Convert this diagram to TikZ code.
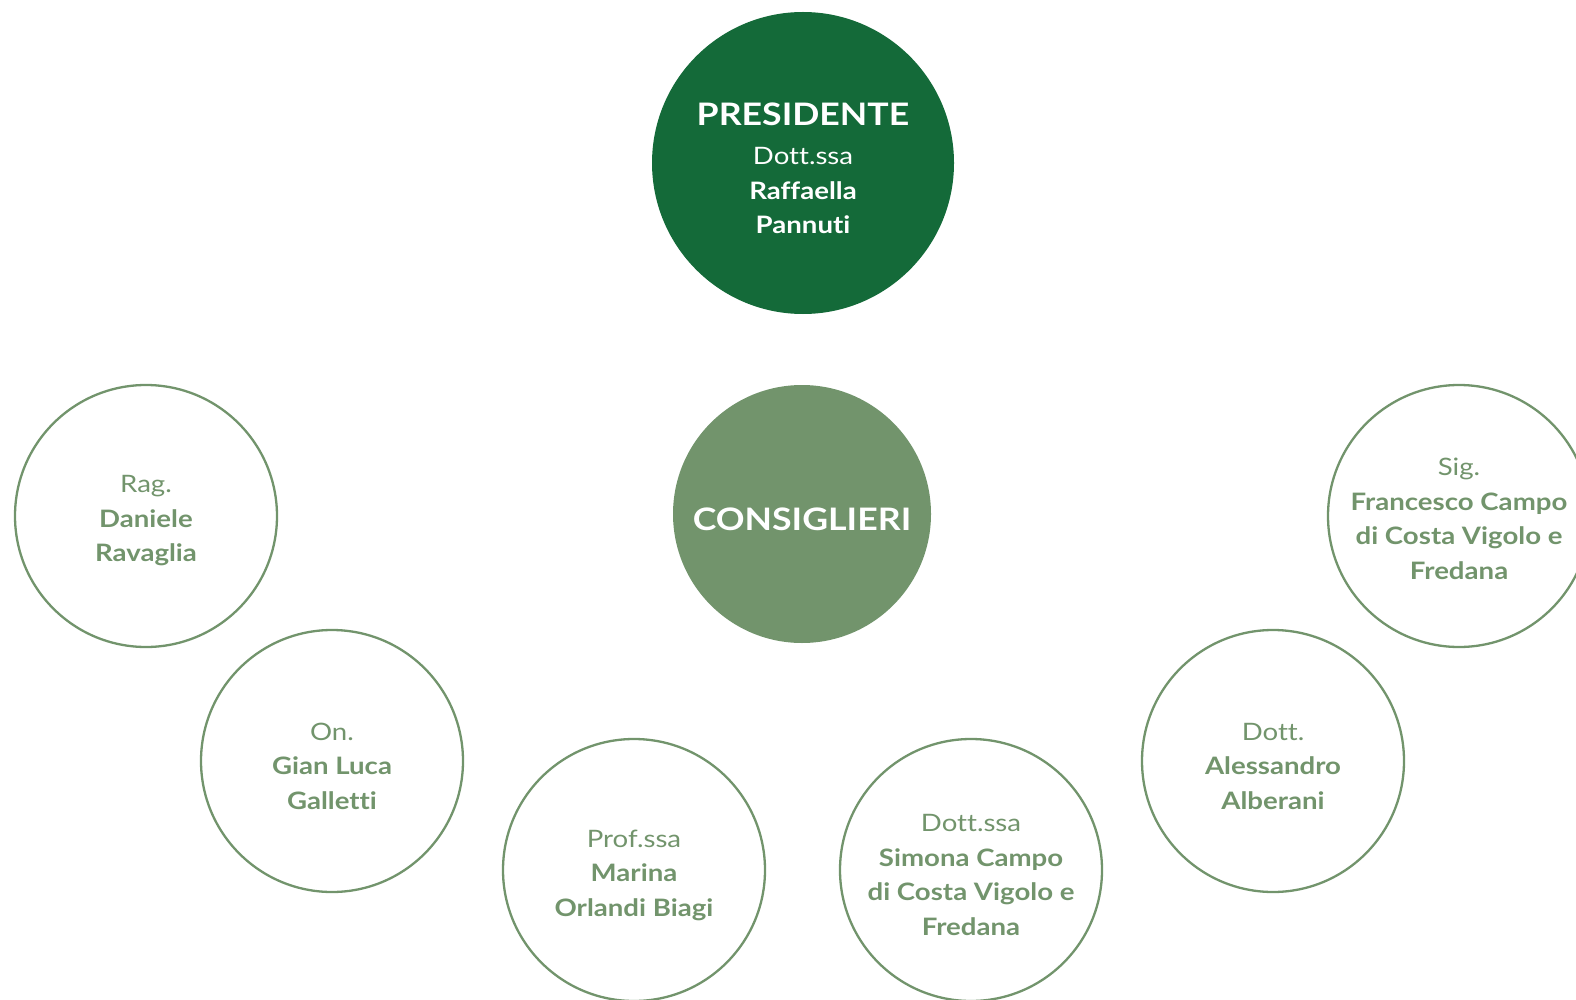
\documentclass[tikz,border=0pt]{standalone}
\usepackage{fontspec}
\setmainfont{Lato}[FakeStretch=1.15,Ligatures=NoCommon]
\definecolor{darkgreen}{HTML}{146A39}
\definecolor{sage}{HTML}{72946C}
\begin{document}
\begin{tikzpicture}[x=1pt,y=-1pt,
  bigcircle/.style={circle,inner sep=0pt},
  member/.style={circle,draw=sage,line width=2.3pt,minimum size=262pt,inner sep=0pt},
  ctext/.style={inner sep=0pt,align=center,font=\fontsize{24}{34.5}\selectfont},
  mtext/.style={ctext,text=sage},
  wtext/.style={ctext,text=white}]
\useasboundingbox (0,0) rectangle (1576,1000);
\node[bigcircle,fill=darkgreen,minimum size=302pt] (pres) at (803,163) {};
\node[wtext] (pres-t) at ([yshift=-5.5pt]pres.center)
  {{\fontsize{31}{40}\selectfont\bfseries PRESIDENTE}\\[5pt] Dott.ssa\\ {\bfseries Raffaella}\\ {\bfseries Pannuti}};
\node[bigcircle,fill=sage,minimum size=258pt] (cons) at (802,514) {};
\node[wtext,font=\fontsize{31}{38}\selectfont\bfseries] (cons-t) at ([yshift=-5pt]cons.center) {CONSIGLIERI};
\node[member] (ravaglia) at (146,516) {};
\node[mtext] (ravaglia-t) at ([yshift=-5pt]ravaglia.center) {Rag.\\ \textbf{Daniele}\\ \textbf{Ravaglia}};
\node[member] (galletti) at (332,761) {};
\node[mtext] (galletti-t) at ([yshift=-5pt]galletti.center) {On.\\ \textbf{Gian Luca}\\ \textbf{Galletti}};
\node[member] (biagi) at (634,870) {};
\node[mtext] (biagi-t) at ([yshift=-5pt]biagi.center) {Prof.ssa\\ \textbf{Marina}\\ \textbf{Orlandi Biagi}};
\node[member] (simona) at (971,870) {};
\node[mtext] (simona-t) at ([yshift=-5pt]simona.center) {Dott.ssa\\ \textbf{Simona Campo}\\ \textbf{di Costa Vigolo e}\\ \textbf{Fredana}};
\node[member] (alberani) at (1273,761) {};
\node[mtext] (alberani-t) at ([yshift=-5pt]alberani.center) {Dott.\\ \textbf{Alessandro}\\ \textbf{Alberani}};
\node[member] (francesco) at (1459,516) {};
\node[mtext] (francesco-t) at ([yshift=-3pt]francesco.center) {Sig.\\ \textbf{Francesco Campo}\\ \textbf{di Costa Vigolo e}\\ \textbf{Fredana}};
\end{tikzpicture}
\end{document}
